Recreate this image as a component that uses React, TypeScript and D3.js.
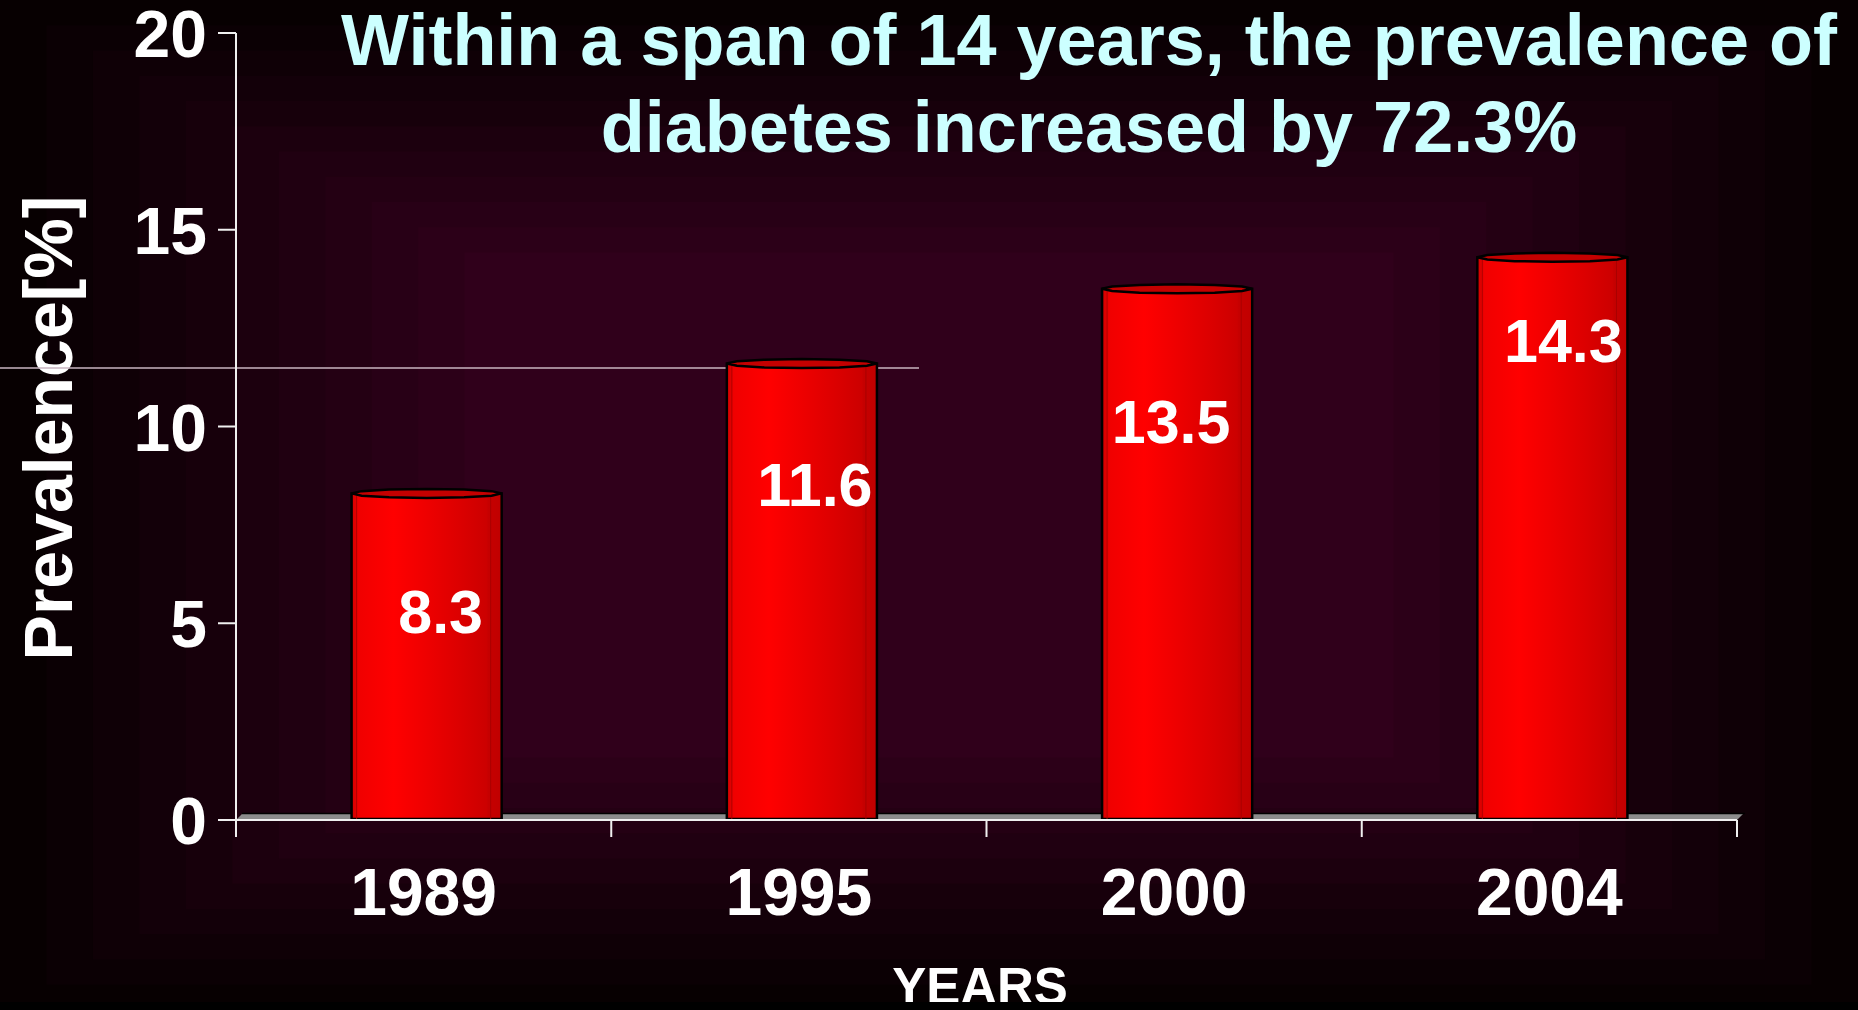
import React, { useEffect } from "react";
import * as d3 from "d3";

// Survey years and diabetes prevalence (%)
const years = ["1989", "1995", "2000", "2004"];
const prevalence = [8.3, 11.6, 13.5, 14.3];
const yTicks = [0, 5, 10, 15, 20];
const titleLines = [
  "Within a span of 14 years, the prevalence of",
  "diabetes increased by 72.3%",
];
const yAxisTitle = "Prevalence[%]";
const xAxisTitle = "YEARS";

const W = 1858;
const H = 1010;
const FONT = "'Liberation Sans', Arial, Helvetica, sans-serif";

// layout
const plot = { left: 236, right: 1737, top: 33, bottom: 820 };
// nudges for the value labels inside each cylinder (px from band centre / bar top)
const labelDx = [17, 16, -3, 14];
const labelDy = [140, 142, 154, 105];

export default function App() {
  useEffect(() => {
    document.body.style.margin = "0";
    document.body.style.background = "#000";
  }, []);

  const y = d3.scaleLinear().domain([0, 20]).range([plot.bottom, plot.top]);
  const x = d3.scaleBand<string>().domain(years).range([plot.left, plot.right]).padding(0);
  const barW = x.bandwidth() * 0.4;
  const barShift = 3;

  // stepped rectangular background gradient, lightest in the middle
  const cx = W / 2;
  const cy = 505;
  const steps = d3.range(0, 11);
  const bgColor = d3.interpolateRgb("#070001", "#30001b");

  const capPath = (xc: number, yc: number, rx: number, ry: number) => {
    const pts: [number, number][] = d3
      .range(0, 12)
      .map((i) => {
        const a = (i / 12) * Math.PI * 2;
        return [xc + rx * Math.cos(a), yc + ry * Math.sin(a)] as [number, number];
      });
    return d3.line().curve(d3.curveLinearClosed)(pts) as string;
  };

  return (
    <svg
      width={W}
      height={H}
      style={{ display: "block", position: "fixed", left: 0, top: 0 }}
      fontFamily={FONT}
      fontWeight="bold"
    >
      <defs>
        <linearGradient id="cyl" x1="0" x2="1" y1="0" y2="0">
          <stop offset="0" stopColor="#d40000" />
          <stop offset="0.035" stopColor="#e40000" />
          <stop offset="0.045" stopColor="#f00000" />
          <stop offset="0.28" stopColor="#ff0000" />
          <stop offset="0.5" stopColor="#ee0000" />
          <stop offset="0.72" stopColor="#dc0000" />
          <stop offset="0.9" stopColor="#cc0000" />
          <stop offset="0.91" stopColor="#c60000" />
          <stop offset="1" stopColor="#c00000" />
        </linearGradient>
      </defs>

      {/* background */}
      {steps.map((k) => {
        const t = 1 - 0.05 * k;
        return (
          <rect
            key={k}
            x={cx - cx * t}
            y={cy - cy * t}
            width={2 * cx * t}
            height={2 * cy * t}
            fill={bgColor(k / 10)}
          />
        );
      })}

      {/* y axis title */}
      <text
        transform={`translate(72,428) rotate(-90)`}
        textAnchor="middle"
        fontSize={68}
        fill="#ffffff"
      >
        {yAxisTitle}
      </text>

      {/* thin reference line */}
      <line x1={0} x2={919} y1={368} y2={368} stroke="#c8b4c0" strokeWidth={1.5} />

      {/* floor */}
      <path
        d={`M${plot.left},${plot.bottom} L${plot.left + 6},${plot.bottom - 6} L${plot.right + 6},${plot.bottom - 6} L${plot.right},${plot.bottom} Z`}
        fill="#8c8c8c"
      />
      <line
        x1={plot.left + 6}
        x2={plot.right + 8}
        y1={plot.bottom - 6.5}
        y2={plot.bottom - 6.5}
        stroke="#000"
        strokeWidth={1.5}
      />

      {/* y axis */}
      <line x1={plot.left} x2={plot.left} y1={plot.top} y2={plot.bottom + 17} stroke="#f0f0f0" strokeWidth={2} />
      {yTicks.map((t) => (
        <g key={t}>
          <line x1={plot.left - 18} x2={plot.left} y1={y(t)} y2={y(t)} stroke="#f0f0f0" strokeWidth={2} />
          <text x={207} y={y(t) + 24} textAnchor="end" fontSize={66} fill="#ffffff">
            {t}
          </text>
        </g>
      ))}

      {/* cylinders */}
      {years.map((yr, i) => {
        const v = prevalence[i];
        const xc = (x(yr) as number) + x.bandwidth() / 2 + barShift;
        const x0 = xc - barW / 2;
        const yt = y(v);
        const yb = y(0) - 1;
        return (
          <g key={yr}>
            <rect x={x0} y={yt} width={barW} height={yb - yt} fill="url(#cyl)" stroke="#000" strokeWidth={2.5} />
            <line x1={x0 + 5} x2={x0 + 5} y1={yt} y2={yb} stroke="#b00000" strokeWidth={1} />
            <line x1={x0 + barW - 11} x2={x0 + barW - 11} y1={yt} y2={yb} stroke="#a80000" strokeWidth={1} />
            <path d={capPath(xc, yt, barW / 2, 4.5)} fill="#c40000" stroke="#000" strokeWidth={2.5} />
          </g>
        );
      })}

      {/* x axis line and ticks */}
      <line x1={plot.left} x2={plot.right} y1={plot.bottom} y2={plot.bottom} stroke="#f0f0f0" strokeWidth={2} />
      {[...years.map((yr) => x(yr) as number), plot.right].map((px, i) => (
        <line key={i} x1={px} x2={px} y1={plot.bottom} y2={plot.bottom + 17} stroke="#f0f0f0" strokeWidth={2} />
      ))}

      {/* value labels */}
      {years.map((yr, i) => (
        <text
          key={yr}
          x={(x(yr) as number) + x.bandwidth() / 2 + labelDx[i]}
          y={y(prevalence[i]) + labelDy[i]}
          textAnchor="middle"
          fontSize={61}
          fill="#ffffff"
        >
          {prevalence[i].toFixed(1)}
        </text>
      ))}

      {/* category labels */}
      {years.map((yr) => (
        <text
          key={yr}
          x={(x(yr) as number) + x.bandwidth() / 2}
          y={915}
          textAnchor="middle"
          fontSize={66}
          fill="#ffffff"
        >
          {yr}
        </text>
      ))}

      {/* title */}
      {titleLines.map((line, i) => (
        <text key={i} x={1089} y={65 + i * 87} textAnchor="middle" fontSize={72} fill="#ccffff">
          {line}
        </text>
      ))}

      {/* x axis title */}
      <text x={980} y={1004} textAnchor="middle" fontSize={51} fill="#ffffff">
        {xAxisTitle}
      </text>

      <rect x={0} y={1002} width={W} height={H - 1002} fill="#000" />
    </svg>
  );
}
